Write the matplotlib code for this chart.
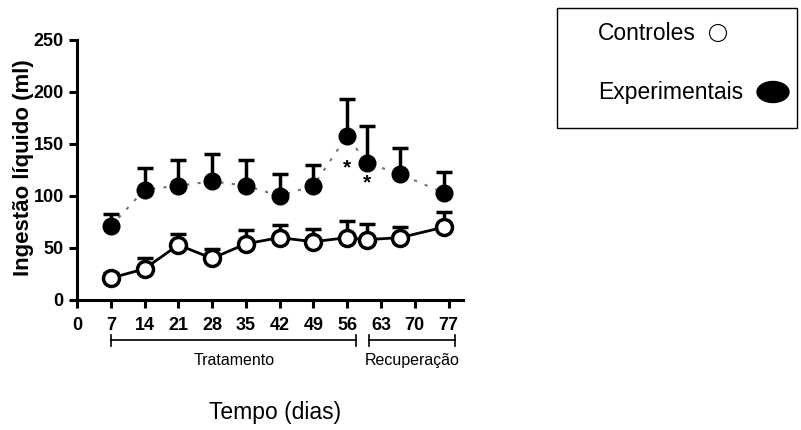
import matplotlib
matplotlib.use('Agg')
import matplotlib.pyplot as plt
import numpy as np
from matplotlib.patches import Rectangle, Ellipse

plt.rcParams['font.family'] = ['Liberation Sans', 'DejaVu Sans']

# dias de coleta
dias = [7, 14, 21, 28, 35, 42, 49, 56, 60, 67, 76]
# controles: media e erro (so para cima)
ctrl_media = [21, 30, 53, 40, 54, 60, 56, 60, 58, 60, 70]
ctrl_erro = [5, 10, 10, 9, 13, 12, 12, 16, 15, 10, 15]
# experimentais
exp_media = [71, 106, 110, 114, 110, 100, 110, 158, 132, 121, 103]
exp_erro = [12, 21, 25, 26, 25, 21, 20, 35, 35, 25, 20]
# asteriscos (x, y)
ast_x = [56, 60]
ast_y = [127, 113]
xticks = [0, 7, 14, 21, 28, 35, 42, 49, 56, 63, 70, 77]

W, H = 801, 430
fig = plt.figure(figsize=(W / 100, H / 100), dpi=100)
ax = fig.add_axes([77 / W, 1 - 300 / H, 386 / W, 260 / H])

ax.errorbar(dias, exp_media, yerr=[np.zeros(len(dias)), exp_erro], fmt='none',
            ecolor='black', elinewidth=2.5, capsize=5.5, capthick=2.5, zorder=2)
ax.plot(dias, exp_media, color='0.45', lw=1.5, ls=(0, (1.5, 4)), zorder=1)
ax.plot(dias, exp_media, 'o', color='black', ms=12, zorder=3)

ax.errorbar(dias, ctrl_media, yerr=[np.zeros(len(dias)), ctrl_erro], fmt='none',
            ecolor='black', elinewidth=2.5, capsize=5.5, capthick=2.5, zorder=2)
ax.plot(dias, ctrl_media, '-', color='black', lw=2, zorder=1)
ax.plot(dias, ctrl_media, 'o', mfc='white', mec='black', mew=2.5, ms=11.5, zorder=4)

for x, y in zip(ast_x, ast_y):
    ax.text(x, y, '*', ha='center', va='center', fontsize=15, fontweight='bold')

ax.set_xlim(0, 80)
ax.set_ylim(0, 250)
ax.set_xticks(xticks)
ax.set_yticks([0, 50, 100, 150, 200, 250])
for s in ['top', 'right']:
    ax.spines[s].set_visible(False)
for s in ['left', 'bottom']:
    ax.spines[s].set_linewidth(2.2)
ax.tick_params(width=2.2, length=6, labelsize=13)
ax.tick_params(axis='x', pad=6)
for lab in ax.get_xticklabels() + ax.get_yticklabels():
    lab.set_fontweight('bold')
ax.set_ylabel('Ingestão líquido (ml)', fontsize=16, fontweight='bold')
ax.yaxis.set_label_coords(-0.112, 0.51)

# barras de periodo abaixo do eixo
def periodo(x0, x1, texto, tx):
    tr = ax.get_xaxis_transform()
    yb = -0.155
    ax.plot([x0, x1], [yb, yb], color='black', lw=1.2, transform=tr, clip_on=False)
    for xx in (x0, x1):
        ax.plot([xx, xx], [yb - 0.022, yb + 0.022], color='black', lw=1.2,
                transform=tr, clip_on=False)
    ax.text(tx, -0.233, texto, ha='center', va='center', fontsize=11.5,
            transform=tr)

periodo(7, 57.8, 'Tratamento', 32.5)
periodo(60.5, 78.3, 'Recuperação', 69.5)

fig.text(275 / W, 1 - 412 / H, 'Tempo (dias)', ha='center', va='center', fontsize=16.5)

# legenda manual
fig.patches.append(Rectangle((557 / W, 1 - 128 / H), 240 / W, 120 / H,
                             transform=fig.transFigure, fill=False,
                             edgecolor='black', lw=1))
fig.text(598 / W, 1 - 34 / H, 'Controles', ha='left', va='center', fontsize=16.5)
fig.text(598 / W, 1 - 92 / H, 'Experimentais', ha='left', va='center', fontsize=16.5)
fig.patches.append(Ellipse((718 / W, 1 - 33 / H), 17 / W, 17 / H,
                           transform=fig.transFigure, facecolor='white',
                           edgecolor='black', lw=0.8))
fig.patches.append(Ellipse((773 / W, 1 - 92 / H), 32 / W, 21 / H,
                           transform=fig.transFigure, facecolor='black',
                           edgecolor='black'))

fig.savefig('out.png', dpi=100)
